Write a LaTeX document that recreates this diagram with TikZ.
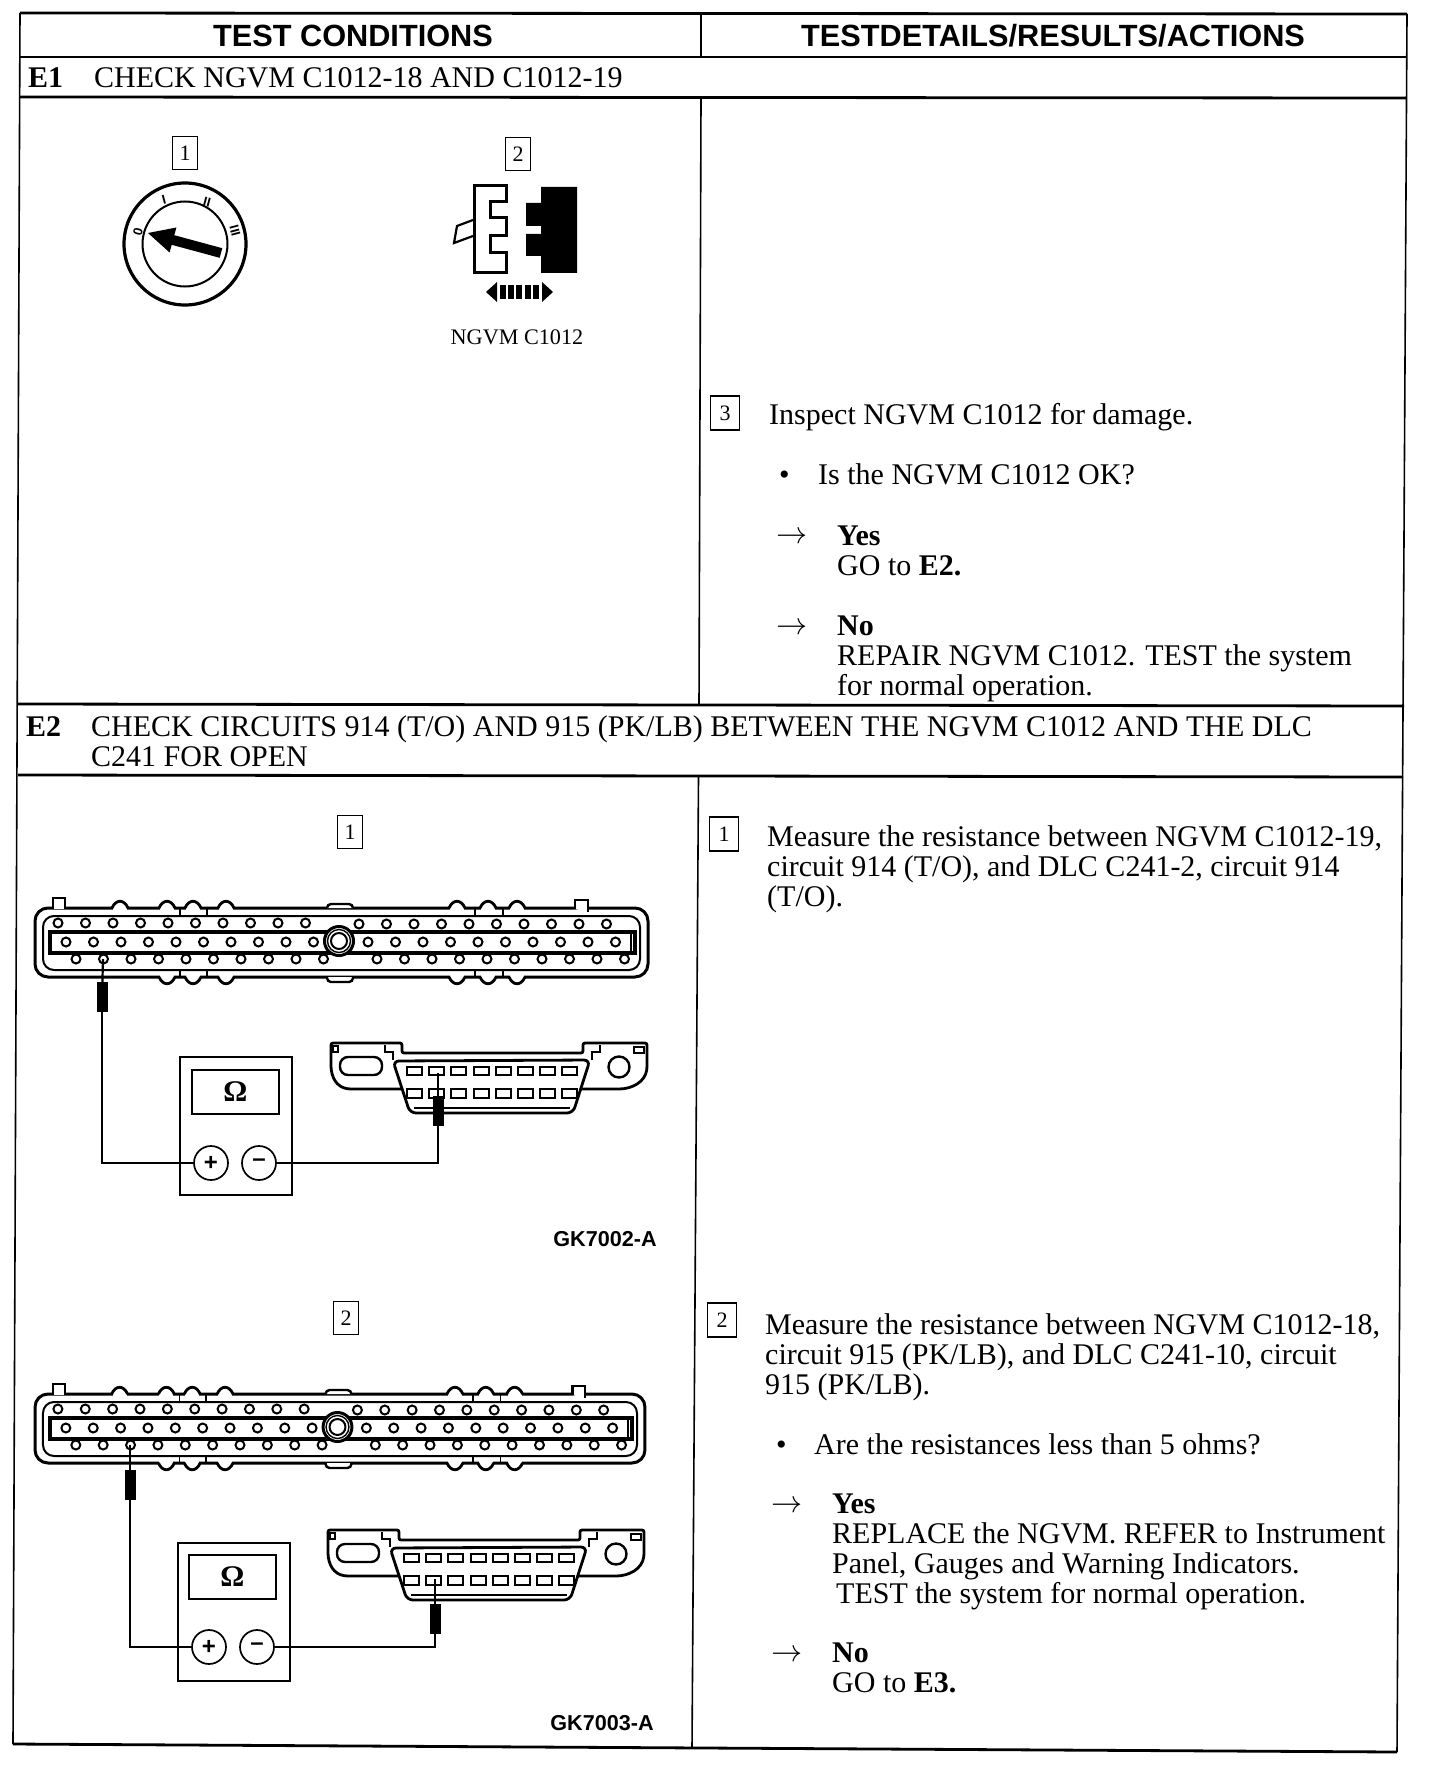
\documentclass[tikz,border=0pt]{standalone}
\usepackage{fontspec}
\setmainfont{Liberation Serif}
\newfontfamily\headfont{Liberation Sans}
\usetikzlibrary{arrows.meta,positioning,calc}
\tikzset{
  rule/.style={line width=2.8pt},
  thinrule/.style={line width=1.6pt},
  body/.style={anchor=north west, inner sep=0pt, align=left, font=\fontsize{30}{30.2}\selectfont, execute at begin node=\strut},
  rowhead/.style={body},
  colhead/.style={inner sep=0pt, font=\headfont\bfseries\fontsize{30.7}{32}\selectfont},
  partno/.style={inner sep=0pt, font=\headfont\bfseries\fontsize{21.6}{24}\selectfont},
  numbox/.style={draw, line width=1.5pt, minimum width=25pt, minimum height=33pt, inner sep=0pt, font=\fontsize{22}{24}\selectfont},
  pinline/.style={line width=2pt, fill=white},
  wire/.style={line width=2.2pt},
  probe/.style={fill=black, inner sep=0pt, minimum width=11pt, minimum height=30pt},
  terminal/.style={circle, draw, line width=1.7pt, fill=white, inner sep=0pt, minimum size=34pt, font=\headfont\bfseries\fontsize{24}{26}\selectfont},
  meterbody/.style={draw, line width=2.6pt, inner sep=0pt, minimum width=112pt, minimum height=138pt},
  meterface/.style={draw, line width=2pt, inner sep=0pt, minimum width=87pt, minimum height=44pt, font=\bfseries\fontsize{30}{34}\selectfont},
  keymark/.style={inner sep=0pt, font=\headfont\bfseries\fontsize{13}{14}\selectfont},
  ngvm/.pic={
    \draw[line width=3pt, rounded corners=13pt] (35,908) rectangle (648,977);
    \draw[line width=2pt, rounded corners=11pt] (43,916) rectangle (640,970);
    \foreach \xb in {120,167,193,226,457,488,517} {
      \draw[white, line width=3.6pt] (\xb-7,908) -- (\xb+7,908);
      \draw[line width=2.8pt] (\xb-8,908) .. controls (\xb-4,899) and (\xb+4,899) .. (\xb+8,908);
    }
    \foreach \xb in {167,193,226,457,488,517} {
      \draw[white, line width=3.6pt] (\xb-7,977) -- (\xb+7,977);
      \draw[line width=2.8pt] (\xb-8,977) .. controls (\xb-4,986) and (\xb+4,986) .. (\xb+8,977);
    }
    \foreach \xb in {180,207,475,503} {
      \draw[line width=1.4pt] (\xb,908) -- (\xb,916);
      \draw[line width=1.4pt] (\xb,970) -- (\xb,977);
    }
    \draw[line width=2.4pt, fill=white] (53,909) -- (53,898) -- (65,898) -- (65,909);
    \draw[line width=2.4pt, fill=white] (575,909) -- (575,900) -- (588,900) -- (588,912);
    \draw[line width=2.4pt, fill=white, rounded corners=4pt] (327,908) -- (327,904) -- (353,904) -- (353,908);
    \draw[line width=2.4pt, fill=white, rounded corners=4pt] (327,977) -- (327,982) -- (353,982) -- (353,977);
    \draw[line width=3.6pt] (50,932) rectangle (635,953);
    \draw[line width=1.4pt] (631,932) -- (631,953);
    \foreach \xa/\ya in {58/923,359/924,66/942,368/942,76/959,377/959}
      \foreach \i in {0,...,9}
        \draw[pinline] ({\xa+27.5*\i},\ya) circle (4.5);
    \draw[line width=3pt, fill=white] (339,941) circle (14.5);
    \draw[line width=1.4pt] (339,941) circle (11.5);
    \draw[line width=2pt] (339,941) circle (8);
  },
  dlc/.pic={
    \draw[line width=2.8pt, fill=white, rounded corners=2pt] (331,1043) -- (402,1043) -- (402,1053) -- (583,1053) -- (583,1043) -- (647,1043) -- (647,1068) .. controls (645,1082) and (632,1089) .. (617,1089) -- (583,1089) -- (398,1089) -- (353,1089) .. controls (340,1089) and (333,1082) .. (331,1068) -- cycle;
    \draw[line width=2.8pt, fill=white, rounded corners=6pt] (393,1061) -- (590,1060) -- (573,1113) -- (410,1113) -- cycle;
    \draw[line width=1.4pt] (414,1108) -- (570,1108);
    \draw[line width=2.4pt, fill=white, rounded corners=8pt] (340,1057) rectangle (382,1075);
    \draw[line width=2.4pt] (619,1067) circle (10.5);
    \draw[line width=1.8pt] (634,1047) rectangle (644,1053);
    \draw[line width=1.8pt] (333,1046) rectangle (338,1052);
    \draw[line width=1.8pt] (385,1045) -- (385,1052) -- (393,1052) -- (393,1060);
    \draw[line width=1.8pt] (600,1045) -- (600,1052) -- (592,1052) -- (592,1060);
    \foreach \i in {0,...,7} {
      \draw[line width=2pt] ({407+22.2*\i},1067) rectangle ({422+22.2*\i},1075);
      \draw[line width=2pt] ({407+22.2*\i},1089) rectangle ({422+22.2*\i},1098);
    }
  }
}
\newcommand{\longarr}{\scalebox{1.25}{$\rightarrow$}}
\begin{document}
\begin{tikzpicture}[x=1pt, y=-1pt, >=Latex]
\useasboundingbox (0,0) rectangle (1440,1768);
\draw[rule] (20,13) -- (1407,14);
\draw[rule] (20,57) -- (1406,57);
\draw[rule] (20,97) -- (1406,98);
\draw[rule] (18,704) -- (1404,706);
\draw[rule] (18,775) -- (1403,777);
\draw[rule] (13,1744) -- (1397,1752);
\draw[thinrule] (20,13) -- (13,1744);
\draw[thinrule] (1407,14) -- (1397,1752);
\draw[thinrule] (701,14) -- (701,57);
\draw[thinrule] (701,98) -- (699,705);
\draw[thinrule] (698.5,776) -- (692,1748);

\node (testcond) [colhead] at (353,36) {TEST CONDITIONS};
\node (testdet) [colhead] at (1053,36) {TESTDETAILS/RESULTS/ACTIONS};

\node (etag) [rowhead] at (28,66.5) {\textbf{E1}};
\node (ehead) [rowhead] at (94,66.5) {CHECK NGVM C1012-18 AND C1012-19};

\node (keybox) [numbox] at (185,153) {1};
\node (keyring) [circle, draw, line width=3.2pt, inner sep=0pt, minimum size=122pt] at (185,244) {};
\node (keyface) [circle, draw, line width=2pt, inner sep=0pt, minimum size=85pt] at (185,244) {};
\fill (148,233) -- (176.4,227.5) -- (174.3,235.2) -- (222.3,248.2) -- (219.7,257.8) -- (171.7,244.8) -- (169.6,252.5) -- cycle;
\node (keyo) [keymark, rotate=75] at (138,232) {0};
\node (keyi) [keymark, rotate=15] at (164,200) {I};
\node (keyii) [keymark, rotate=-15] at (207,202) {II};
\node (keyiii) [keymark, rotate=-75] at (235,231) {III};

\node (plugbox) [numbox] at (518,154) {2};
\draw[line width=3pt, fill=white] (474,186) -- (506,186) -- (506,202) -- (490,202) -- (490,218) -- (506,218) -- (506,236) -- (490,236) -- (490,253) -- (506,253) -- (506,273) -- (474,273) -- cycle;
\draw[line width=2.2pt] (473,220) -- (457,226) -- (454,243) -- (473,236);
\fill (541,187) -- (577,187) -- (577,273) -- (541,273) -- (541,256) -- (526,256) -- (526,234) -- (541,234) -- (541,226) -- (526,226) -- (526,203) -- (541,203) -- cycle;
\fill (486,292) -- (497,282) -- (497,302) -- cycle;
\fill (553,292) -- (542,282) -- (542,302) -- cycle;
\foreach \i in {0,...,4}
  \fill ({500+8.2*\i},285) rectangle ({506+8.2*\i},299);
\node (plugname) [inner sep=0pt, font=\fontsize{22.2}{24}\selectfont] at (517,337) {NGVM C1012};

\node (inspbox) [numbox, minimum width=29pt, minimum height=34pt] at (725,413) {3};
\node (insp) [body] at (769,403.5) {Inspect NGVM C1012 for damage.};
\node (okdot) [body] at (779,463.5) {•};
\node (okask) [body] at (818,463.5) {Is the NGVM C1012 OK?};
\node (yesarr) [body] at (776,522) {\longarr};
\node (yesa) [body] at (837,525.5) {\textbf{Yes}\\GO to \textbf{E2.}};
\node (noarr) [body] at (776,613) {\longarr};
\node (noa) [body] at (837,615.5) {\textbf{No}\\REPAIR NGVM C1012. TEST the system\\for normal operation.};

\node (ftag) [rowhead] at (26,715) {\textbf{E2}};
\node (fhead) [rowhead] at (91,715.5) {CHECK CIRCUITS 914 (T/O) AND 915 (PK/LB) BETWEEN THE NGVM C1012 AND THE DLC\\C241 FOR OPEN};

\node (testabox) [numbox] at (350,832) {1};
\pic at (0,0) {ngvm};
\pic at (0,0) {dlc};
\node (metera) [meterbody] at (236,1126) {};
\node (facea) [meterface] at (235.5,1092) {Ω};
\node (plusa) [terminal] at (211,1163) {+};
\node (minusa) [terminal] at (259,1163) {–};
\coordinate (pina) at (103,959);
\coordinate (pinb) at (438,1073);
\node (proba) [probe] at (102,997) {};
\node (probb) [probe] at (438,1111) {};
\draw[wire] (pina) -- (proba);
\draw[wire] (proba) |- (plusa);
\draw[wire] (minusa) -| (probb);
\draw[wire] (probb) -- (pinb);
\node (parta) [partno] at (605,1239) {GK7002-A};

\node (testbbox) [numbox] at (346,1318) {2};
\pic[xscale=.995] at (0.2,486) {ngvm};
\pic at (-3,487) {dlc};
\node (meterb) [meterbody] at (234,1612) {};
\node (faceb) [meterface] at (232.5,1577) {Ω};
\node (plusb) [terminal] at (209,1647) {+};
\node (minusb) [terminal] at (257,1647) {–};
\coordinate (pinc) at (130,1445);
\coordinate (pind) at (435,1579);
\node (probc) [probe] at (130,1485) {};
\node (probd) [probe] at (435,1619) {};
\draw[wire] (pinc) -- (probc);
\draw[wire] (probc) |- (plusb);
\draw[wire] (minusb) -| (probd);
\draw[wire] (probd) -- (pind);
\node (partb) [partno] at (602,1723) {GK7003-A};

\node (measabox) [numbox, minimum width=29pt, minimum height=34pt] at (724,834) {1};
\node (measa) [body] at (767,825.5) {Measure the resistance between NGVM C1012-19,\\circuit 914 (T/O), and DLC C241-2, circuit 914\\(T/O).};
\node (measbbox) [numbox, minimum width=29pt, minimum height=34pt] at (722,1320) {2};
\node (measb) [body] at (765,1313) {Measure the resistance between NGVM C1012-18,\\circuit 915 (PK/LB), and DLC C241-10, circuit\\915 (PK/LB).};
\node (lessdot) [body] at (776,1433.5) {•};
\node (lessask) [body] at (814,1433.5) {Are the resistances less than 5 ohms?};
\node (yesbarr) [body] at (771,1491) {\longarr};
\node (yesb) [body] at (832,1493.5) {\textbf{Yes}\\REPLACE the NGVM. REFER to Instrument\\Panel, Gauges and Warning Indicators.\\\hspace*{4pt}TEST the system for normal operation.};
\node (nobarr) [body] at (771,1640) {\longarr};
\node (nob) [body] at (832,1642.5) {\textbf{No}\\GO to \textbf{E3.}};
\end{tikzpicture}
\end{document}
